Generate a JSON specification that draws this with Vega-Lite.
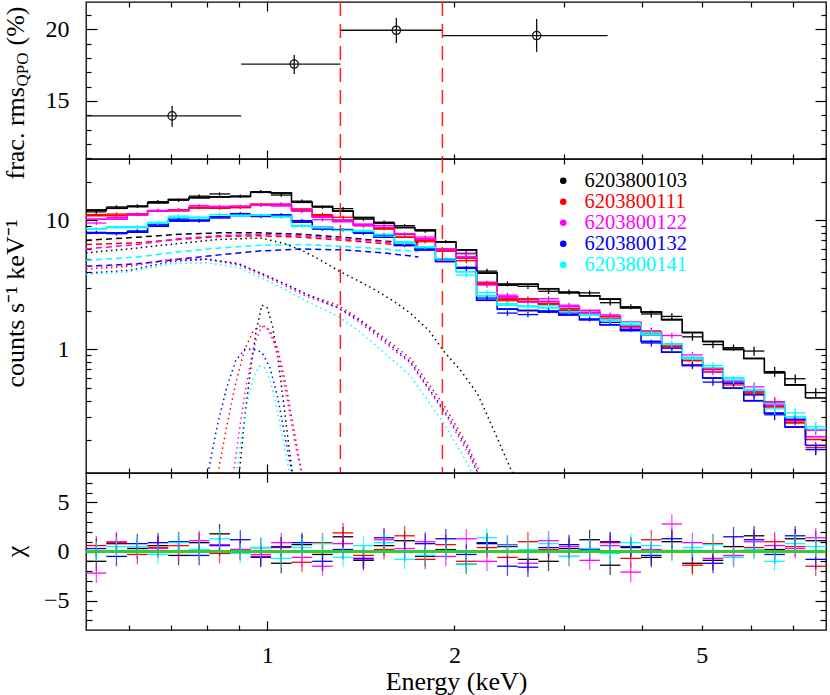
{
"$schema":"https://vega.github.io/schema/vega-lite/v6.json",
"padding":{"left":1,"top":0,"right":2,"bottom":0},
"bounds":"flush",
"spacing":0,
"config":{
 "view":{"stroke":"#000","strokeWidth":1.3},
 "axis":{"domain":false,"grid":false,"labelFont":"Liberation Serif","titleFont":"Liberation Serif","labelFontSize":24,"titleFontSize":26,"labelColor":"#000","titleColor":"#000","titleFontWeight":"normal","tickColor":"#000","tickWidth":1.2,"minExtent":0,"labelOverlap":false,"labelFlush":false},
 "legend":{"orient":"none","legendX":467,"legendY":168.6,"labelFont":"Liberation Serif","labelFontSize":20.5,"symbolType":"circle","symbolSize":25,"rowPadding":0,"labelOffset":11,"padding":0}
},
"datasets":{
"qpo":[
{"lo":0.511,"hi":0.908,"e":0.703,"v":13.96,"vlo":13.2,"vhi":14.65},
{"lo":0.908,"hi":1.311,"e":1.105,"v":17.57,"vlo":16.88,"vhi":18.21},
{"lo":1.311,"hi":1.913,"e":1.613,"v":19.93,"vlo":19.04,"vhi":20.79},
{"lo":1.913,"hi":3.527,"e":2.712,"v":19.56,"vlo":18.42,"vhi":20.72}
],
"spec":[
{"o":"6203800103","lo":0.511,"hi":0.551,"e":0.531,"m":12.0,"d":11.64,"s":0.36,"r":-1.0},
{"o":"6203800103","lo":0.551,"hi":0.595,"e":0.572,"m":12.4,"d":12.70,"s":0.372,"r":0.8},
{"o":"6203800103","lo":0.595,"hi":0.642,"e":0.618,"m":12.8,"d":12.92,"s":0.384,"r":0.3},
{"o":"6203800103","lo":0.642,"hi":0.693,"e":0.667,"m":13.7,"d":13.95,"s":0.411,"r":0.6},
{"o":"6203800103","lo":0.693,"hi":0.748,"e":0.720,"m":14.5,"d":14.33,"s":0.435,"r":-0.4},
{"o":"6203800103","lo":0.748,"hi":0.807,"e":0.777,"m":15.0,"d":15.41,"s":0.45,"r":0.9},
{"o":"6203800103","lo":0.807,"hi":0.871,"e":0.838,"m":15.2,"d":16.02,"s":0.456,"r":1.8},
{"o":"6203800103","lo":0.871,"hi":0.940,"e":0.905,"m":15.3,"d":15.39,"s":0.459,"r":0.2},
{"o":"6203800103","lo":0.940,"hi":1.014,"e":0.976,"m":16.5,"d":16.70,"s":0.495,"r":0.4},
{"o":"6203800103","lo":1.014,"hi":1.094,"e":1.053,"m":16.3,"d":15.71,"s":0.489,"r":-1.2},
{"o":"6203800103","lo":1.094,"hi":1.181,"e":1.137,"m":13.8,"d":14.09,"s":0.414,"r":0.7},
{"o":"6203800103","lo":1.181,"hi":1.274,"e":1.227,"m":12.8,"d":12.68,"s":0.384,"r":-0.3},
{"o":"6203800103","lo":1.274,"hi":1.375,"e":1.324,"m":11.8,"d":12.33,"s":0.354,"r":1.5},
{"o":"6203800103","lo":1.375,"hi":1.484,"e":1.428,"m":10.5,"d":10.22,"s":0.315,"r":-0.9},
{"o":"6203800103","lo":1.484,"hi":1.601,"e":1.541,"m":9.5,"d":9.67,"s":0.285,"r":0.6},
{"o":"6203800103","lo":1.601,"hi":1.728,"e":1.663,"m":8.8,"d":9.09,"s":0.264,"r":1.1},
{"o":"6203800103","lo":1.728,"hi":1.864,"e":1.795,"m":8.4,"d":8.27,"s":0.252,"r":-0.5},
{"o":"6203800103","lo":1.864,"hi":2.012,"e":1.937,"m":6.8,"d":6.84,"s":0.204,"r":0.2},
{"o":"6203800103","lo":2.012,"hi":2.171,"e":2.090,"m":5.9,"d":5.55,"s":0.266,"r":-1.3},
{"o":"6203800103","lo":2.171,"hi":2.343,"e":2.256,"m":3.9,"d":4.04,"s":0.176,"r":0.8},
{"o":"6203800103","lo":2.343,"hi":2.528,"e":2.434,"m":3.15,"d":3.22,"s":0.142,"r":0.5},
{"o":"6203800103","lo":2.528,"hi":2.728,"e":2.626,"m":3.2,"d":3.08,"s":0.144,"r":-0.8},
{"o":"6203800103","lo":2.728,"hi":2.944,"e":2.834,"m":2.95,"d":2.82,"s":0.133,"r":-1.0},
{"o":"6203800103","lo":2.944,"hi":3.177,"e":3.058,"m":2.75,"d":2.79,"s":0.124,"r":0.3},
{"o":"6203800103","lo":3.177,"hi":3.428,"e":3.300,"m":2.6,"d":2.74,"s":0.117,"r":1.2},
{"o":"6203800103","lo":3.428,"hi":3.699,"e":3.561,"m":2.45,"d":2.30,"s":0.110,"r":-1.4},
{"o":"6203800103","lo":3.699,"hi":3.992,"e":3.843,"m":2.1,"d":2.14,"s":0.0945,"r":0.4},
{"o":"6203800103","lo":3.992,"hi":4.308,"e":4.147,"m":1.95,"d":1.88,"s":0.117,"r":-0.6},
{"o":"6203800103","lo":4.308,"hi":4.649,"e":4.475,"m":1.7,"d":1.80,"s":0.102,"r":1.0},
{"o":"6203800103","lo":4.649,"hi":5.016,"e":4.829,"m":1.35,"d":1.25,"s":0.081,"r":-1.2},
{"o":"6203800103","lo":5.016,"hi":5.413,"e":5.211,"m":1.15,"d":1.09,"s":0.069,"r":-0.9},
{"o":"6203800103","lo":5.413,"hi":5.841,"e":5.623,"m":1.0,"d":1.03,"s":0.06,"r":0.5},
{"o":"6203800103","lo":5.841,"hi":6.303,"e":6.068,"m":0.85,"d":0.97,"s":0.0765,"r":1.6},
{"o":"6203800103","lo":6.303,"hi":6.802,"e":6.548,"m":0.66,"d":0.672,"s":0.0594,"r":0.2},
{"o":"6203800103","lo":6.802,"hi":7.340,"e":7.066,"m":0.53,"d":0.592,"s":0.0477,"r":1.3},
{"o":"6203800103","lo":7.340,"hi":7.92,"e":7.625,"m":0.42,"d":0.462,"s":0.0378,"r":1.1},
{"o":"6203800111","lo":0.511,"hi":0.551,"e":0.531,"m":10.9,"d":11.10,"s":0.327,"r":0.6},
{"o":"6203800111","lo":0.551,"hi":0.595,"e":0.572,"m":10.9,"d":11.19,"s":0.327,"r":0.9},
{"o":"6203800111","lo":0.595,"hi":0.642,"e":0.618,"m":11.2,"d":11.10,"s":0.336,"r":-0.3},
{"o":"6203800111","lo":0.642,"hi":0.693,"e":0.667,"m":11.8,"d":11.94,"s":0.354,"r":0.4},
{"o":"6203800111","lo":0.693,"hi":0.748,"e":0.720,"m":11.9,"d":12.11,"s":0.357,"r":0.6},
{"o":"6203800111","lo":0.748,"hi":0.807,"e":0.777,"m":12.5,"d":12.58,"s":0.375,"r":0.2},
{"o":"6203800111","lo":0.807,"hi":0.871,"e":0.838,"m":12.5,"d":12.43,"s":0.375,"r":-0.2},
{"o":"6203800111","lo":0.871,"hi":0.940,"e":0.905,"m":12.6,"d":12.64,"s":0.378,"r":0.1},
{"o":"6203800111","lo":0.940,"hi":1.014,"e":0.976,"m":13.3,"d":13.10,"s":0.399,"r":-0.5},
{"o":"6203800111","lo":1.014,"hi":1.094,"e":1.053,"m":13.2,"d":13.36,"s":0.396,"r":0.4},
{"o":"6203800111","lo":1.094,"hi":1.181,"e":1.137,"m":12.2,"d":11.80,"s":0.366,"r":-1.1},
{"o":"6203800111","lo":1.181,"hi":1.274,"e":1.227,"m":10.8,"d":11.09,"s":0.324,"r":0.9},
{"o":"6203800111","lo":1.274,"hi":1.375,"e":1.324,"m":10.0,"d":10.57,"s":0.30,"r":1.9},
{"o":"6203800111","lo":1.375,"hi":1.484,"e":1.428,"m":9.2,"d":9.09,"s":0.276,"r":-0.4},
{"o":"6203800111","lo":1.484,"hi":1.601,"e":1.541,"m":8.6,"d":8.65,"s":0.258,"r":0.2},
{"o":"6203800111","lo":1.601,"hi":1.728,"e":1.663,"m":7.4,"d":7.76,"s":0.222,"r":1.6},
{"o":"6203800111","lo":1.728,"hi":1.864,"e":1.795,"m":7.0,"d":6.83,"s":0.21,"r":-0.8},
{"o":"6203800111","lo":1.864,"hi":2.012,"e":1.937,"m":5.8,"d":5.92,"s":0.174,"r":0.7},
{"o":"6203800111","lo":2.012,"hi":2.171,"e":2.090,"m":5.1,"d":4.87,"s":0.23,"r":-1.0},
{"o":"6203800111","lo":2.171,"hi":2.343,"e":2.256,"m":3.2,"d":3.26,"s":0.144,"r":0.4},
{"o":"6203800111","lo":2.343,"hi":2.528,"e":2.434,"m":2.45,"d":2.38,"s":0.110,"r":-0.6},
{"o":"6203800111","lo":2.528,"hi":2.728,"e":2.626,"m":2.35,"d":2.46,"s":0.106,"r":1.0},
{"o":"6203800111","lo":2.728,"hi":2.944,"e":2.834,"m":2.25,"d":2.27,"s":0.101,"r":0.2},
{"o":"6203800111","lo":2.944,"hi":3.177,"e":3.058,"m":2.05,"d":2.00,"s":0.092,"r":-0.5},
{"o":"6203800111","lo":3.177,"hi":3.428,"e":3.300,"m":1.9,"d":1.93,"s":0.0855,"r":0.3},
{"o":"6203800111","lo":3.428,"hi":3.699,"e":3.561,"m":1.72,"d":1.79,"s":0.0774,"r":0.9},
{"o":"6203800111","lo":3.699,"hi":3.992,"e":3.843,"m":1.55,"d":1.50,"s":0.0698,"r":-0.7},
{"o":"6203800111","lo":3.992,"hi":4.308,"e":4.147,"m":1.3,"d":1.39,"s":0.078,"r":1.2},
{"o":"6203800111","lo":4.308,"hi":4.649,"e":4.475,"m":1.05,"d":1.06,"s":0.063,"r":0.1},
{"o":"6203800111","lo":4.649,"hi":5.016,"e":4.829,"m":0.82,"d":0.751,"s":0.0492,"r":-1.4},
{"o":"6203800111","lo":5.016,"hi":5.413,"e":5.211,"m":0.67,"d":0.702,"s":0.0402,"r":0.8},
{"o":"6203800111","lo":5.413,"hi":5.841,"e":5.623,"m":0.55,"d":0.530,"s":0.033,"r":-0.6},
{"o":"6203800111","lo":5.841,"hi":6.303,"e":6.068,"m":0.45,"d":0.466,"s":0.0405,"r":0.4},
{"o":"6203800111","lo":6.303,"hi":6.802,"e":6.548,"m":0.36,"d":0.392,"s":0.0324,"r":1.0},
{"o":"6203800111","lo":6.802,"hi":7.340,"e":7.066,"m":0.27,"d":0.282,"s":0.0243,"r":0.5},
{"o":"6203800111","lo":7.340,"hi":7.92,"e":7.625,"m":0.2,"d":0.173,"s":0.018,"r":-1.5},
{"o":"6203800122","lo":0.511,"hi":0.551,"e":0.531,"m":10.2,"d":9.53,"s":0.306,"r":-2.2},
{"o":"6203800122","lo":0.551,"hi":0.595,"e":0.572,"m":10.2,"d":10.51,"s":0.306,"r":1.0},
{"o":"6203800122","lo":0.595,"hi":0.642,"e":0.618,"m":11.0,"d":11.17,"s":0.33,"r":0.5},
{"o":"6203800122","lo":0.642,"hi":0.693,"e":0.667,"m":11.8,"d":11.91,"s":0.354,"r":0.3},
{"o":"6203800122","lo":0.693,"hi":0.748,"e":0.720,"m":12.0,"d":12.0,"s":0.36,"r":0.0},
{"o":"6203800122","lo":0.748,"hi":0.807,"e":0.777,"m":12.6,"d":13.02,"s":0.378,"r":1.1},
{"o":"6203800122","lo":0.807,"hi":0.871,"e":0.838,"m":12.6,"d":12.86,"s":0.378,"r":0.7},
{"o":"6203800122","lo":0.871,"hi":0.940,"e":0.905,"m":12.8,"d":12.88,"s":0.384,"r":0.2},
{"o":"6203800122","lo":0.940,"hi":1.014,"e":0.976,"m":13.2,"d":13.08,"s":0.396,"r":-0.3},
{"o":"6203800122","lo":1.014,"hi":1.094,"e":1.053,"m":13.0,"d":13.35,"s":0.39,"r":0.9},
{"o":"6203800122","lo":1.094,"hi":1.181,"e":1.137,"m":12.0,"d":11.78,"s":0.36,"r":-0.6},
{"o":"6203800122","lo":1.181,"hi":1.274,"e":1.227,"m":10.6,"d":10.12,"s":0.318,"r":-1.5},
{"o":"6203800122","lo":1.274,"hi":1.375,"e":1.324,"m":9.8,"d":10.04,"s":0.294,"r":0.8},
{"o":"6203800122","lo":1.375,"hi":1.484,"e":1.428,"m":9.3,"d":9.08,"s":0.279,"r":-0.8},
{"o":"6203800122","lo":1.484,"hi":1.601,"e":1.541,"m":8.8,"d":9.12,"s":0.264,"r":1.2},
{"o":"6203800122","lo":1.601,"hi":1.728,"e":1.663,"m":7.8,"d":7.87,"s":0.234,"r":0.3},
{"o":"6203800122","lo":1.728,"hi":1.864,"e":1.795,"m":7.2,"d":7.42,"s":0.216,"r":1.0},
{"o":"6203800122","lo":1.864,"hi":2.012,"e":1.937,"m":6.0,"d":5.91,"s":0.18,"r":-0.5},
{"o":"6203800122","lo":2.012,"hi":2.171,"e":2.090,"m":5.2,"d":5.50,"s":0.234,"r":1.3},
{"o":"6203800122","lo":2.171,"hi":2.343,"e":2.256,"m":3.3,"d":3.15,"s":0.1485,"r":-1.0},
{"o":"6203800122","lo":2.343,"hi":2.528,"e":2.434,"m":2.55,"d":2.63,"s":0.115,"r":0.7},
{"o":"6203800122","lo":2.528,"hi":2.728,"e":2.626,"m":2.45,"d":2.32,"s":0.110,"r":-1.2},
{"o":"6203800122","lo":2.728,"hi":2.944,"e":2.834,"m":2.35,"d":2.47,"s":0.106,"r":1.1},
{"o":"6203800122","lo":2.944,"hi":3.177,"e":3.058,"m":2.15,"d":2.20,"s":0.097,"r":0.5},
{"o":"6203800122","lo":3.177,"hi":3.428,"e":3.300,"m":2.0,"d":1.92,"s":0.09,"r":-0.9},
{"o":"6203800122","lo":3.428,"hi":3.699,"e":3.561,"m":1.8,"d":1.85,"s":0.081,"r":0.6},
{"o":"6203800122","lo":3.699,"hi":3.992,"e":3.843,"m":1.62,"d":1.47,"s":0.0729,"r":-2.1},
{"o":"6203800122","lo":3.992,"hi":4.308,"e":4.147,"m":1.35,"d":1.37,"s":0.081,"r":0.2},
{"o":"6203800122","lo":4.308,"hi":4.649,"e":4.475,"m":1.1,"d":1.28,"s":0.066,"r":2.8},
{"o":"6203800122","lo":4.649,"hi":5.016,"e":4.829,"m":0.86,"d":0.906,"s":0.0516,"r":0.9},
{"o":"6203800122","lo":5.016,"hi":5.413,"e":5.211,"m":0.7,"d":0.671,"s":0.042,"r":-0.7},
{"o":"6203800122","lo":5.413,"hi":5.841,"e":5.623,"m":0.57,"d":0.556,"s":0.0342,"r":-0.4},
{"o":"6203800122","lo":5.841,"hi":6.303,"e":6.068,"m":0.47,"d":0.512,"s":0.0423,"r":1.0},
{"o":"6203800122","lo":6.303,"hi":6.802,"e":6.548,"m":0.37,"d":0.390,"s":0.0333,"r":0.6},
{"o":"6203800122","lo":6.802,"hi":7.340,"e":7.066,"m":0.28,"d":0.288,"s":0.0252,"r":0.3},
{"o":"6203800122","lo":7.340,"hi":7.92,"e":7.625,"m":0.21,"d":0.236,"s":0.0189,"r":1.4},
{"o":"6203800132","lo":0.511,"hi":0.551,"e":0.531,"m":8.0,"d":8.07,"s":0.24,"r":0.3},
{"o":"6203800132","lo":0.551,"hi":0.595,"e":0.572,"m":8.0,"d":7.88,"s":0.24,"r":-0.5},
{"o":"6203800132","lo":0.595,"hi":0.642,"e":0.618,"m":8.1,"d":8.29,"s":0.243,"r":0.8},
{"o":"6203800132","lo":0.642,"hi":0.693,"e":0.667,"m":9.0,"d":9.24,"s":0.27,"r":0.9},
{"o":"6203800132","lo":0.693,"hi":0.748,"e":0.720,"m":9.9,"d":10.20,"s":0.297,"r":1.0},
{"o":"6203800132","lo":0.748,"hi":0.807,"e":0.777,"m":10.0,"d":9.88,"s":0.30,"r":-0.4},
{"o":"6203800132","lo":0.807,"hi":0.871,"e":0.838,"m":10.5,"d":10.69,"s":0.315,"r":0.6},
{"o":"6203800132","lo":0.871,"hi":0.940,"e":0.905,"m":10.9,"d":11.29,"s":0.327,"r":1.2},
{"o":"6203800132","lo":0.940,"hi":1.014,"e":0.976,"m":10.9,"d":10.70,"s":0.327,"r":-0.6},
{"o":"6203800132","lo":1.014,"hi":1.094,"e":1.053,"m":10.9,"d":11.06,"s":0.327,"r":0.5},
{"o":"6203800132","lo":1.094,"hi":1.181,"e":1.137,"m":9.7,"d":9.96,"s":0.291,"r":0.9},
{"o":"6203800132","lo":1.181,"hi":1.274,"e":1.227,"m":8.8,"d":8.54,"s":0.264,"r":-1.0},
{"o":"6203800132","lo":1.274,"hi":1.375,"e":1.324,"m":8.4,"d":8.45,"s":0.252,"r":0.2},
{"o":"6203800132","lo":1.375,"hi":1.484,"e":1.428,"m":8.1,"d":7.93,"s":0.243,"r":-0.7},
{"o":"6203800132","lo":1.484,"hi":1.601,"e":1.541,"m":7.4,"d":7.71,"s":0.222,"r":1.4},
{"o":"6203800132","lo":1.601,"hi":1.728,"e":1.663,"m":6.4,"d":6.40,"s":0.192,"r":0.0},
{"o":"6203800132","lo":1.728,"hi":1.864,"e":1.795,"m":5.9,"d":6.04,"s":0.177,"r":0.8},
{"o":"6203800132","lo":1.864,"hi":2.012,"e":1.937,"m":4.8,"d":4.99,"s":0.144,"r":1.3},
{"o":"6203800132","lo":2.012,"hi":2.171,"e":2.090,"m":4.3,"d":4.24,"s":0.1935,"r":-0.3},
{"o":"6203800132","lo":2.171,"hi":2.343,"e":2.256,"m":2.4,"d":2.50,"s":0.108,"r":0.9},
{"o":"6203800132","lo":2.343,"hi":2.528,"e":2.434,"m":2.05,"d":1.91,"s":0.092,"r":-1.5},
{"o":"6203800132","lo":2.528,"hi":2.728,"e":2.626,"m":2.0,"d":1.86,"s":0.09,"r":-1.6},
{"o":"6203800132","lo":2.728,"hi":2.944,"e":2.834,"m":1.95,"d":1.99,"s":0.0878,"r":0.4},
{"o":"6203800132","lo":2.944,"hi":3.177,"e":3.058,"m":1.85,"d":1.91,"s":0.0833,"r":0.7},
{"o":"6203800132","lo":3.177,"hi":3.428,"e":3.300,"m":1.7,"d":1.72,"s":0.0765,"r":0.2},
{"o":"6203800132","lo":3.428,"hi":3.699,"e":3.561,"m":1.55,"d":1.62,"s":0.0698,"r":1.0},
{"o":"6203800132","lo":3.699,"hi":3.992,"e":3.843,"m":1.4,"d":1.43,"s":0.063,"r":0.5},
{"o":"6203800132","lo":3.992,"hi":4.308,"e":4.147,"m":1.15,"d":1.12,"s":0.069,"r":-0.4},
{"o":"6203800132","lo":4.308,"hi":4.649,"e":4.475,"m":0.95,"d":1.02,"s":0.057,"r":1.3},
{"o":"6203800132","lo":4.649,"hi":5.016,"e":4.829,"m":0.75,"d":0.755,"s":0.045,"r":0.1},
{"o":"6203800132","lo":5.016,"hi":5.413,"e":5.211,"m":0.6,"d":0.557,"s":0.036,"r":-1.2},
{"o":"6203800132","lo":5.413,"hi":5.841,"e":5.623,"m":0.5,"d":0.545,"s":0.03,"r":1.5},
{"o":"6203800132","lo":5.841,"hi":6.303,"e":6.068,"m":0.4,"d":0.443,"s":0.036,"r":1.2},
{"o":"6203800132","lo":6.303,"hi":6.802,"e":6.548,"m":0.32,"d":0.311,"s":0.0288,"r":-0.3},
{"o":"6203800132","lo":6.802,"hi":7.340,"e":7.066,"m":0.25,"d":0.286,"s":0.0225,"r":1.6},
{"o":"6203800132","lo":7.340,"hi":7.92,"e":7.625,"m":0.18,"d":0.167,"s":0.0162,"r":-0.8},
{"o":"6203800141","lo":0.511,"hi":0.551,"e":0.531,"m":8.6,"d":8.6,"s":0.258,"r":0.0},
{"o":"6203800141","lo":0.551,"hi":0.595,"e":0.572,"m":8.8,"d":8.93,"s":0.264,"r":0.5},
{"o":"6203800141","lo":0.595,"hi":0.642,"e":0.618,"m":8.8,"d":8.93,"s":0.264,"r":0.5},
{"o":"6203800141","lo":0.642,"hi":0.693,"e":0.667,"m":9.6,"d":9.51,"s":0.288,"r":-0.3},
{"o":"6203800141","lo":0.693,"hi":0.748,"e":0.720,"m":10.5,"d":10.78,"s":0.315,"r":0.9},
{"o":"6203800141","lo":0.748,"hi":0.807,"e":0.777,"m":10.5,"d":10.56,"s":0.315,"r":0.2},
{"o":"6203800141","lo":0.807,"hi":0.871,"e":0.838,"m":10.7,"d":11.12,"s":0.321,"r":1.3},
{"o":"6203800141","lo":0.871,"hi":0.940,"e":0.905,"m":10.9,"d":10.83,"s":0.327,"r":-0.2},
{"o":"6203800141","lo":0.940,"hi":1.014,"e":0.976,"m":10.9,"d":11.03,"s":0.327,"r":0.4},
{"o":"6203800141","lo":1.014,"hi":1.094,"e":1.053,"m":10.8,"d":10.57,"s":0.324,"r":-0.7},
{"o":"6203800141","lo":1.094,"hi":1.181,"e":1.137,"m":9.0,"d":9.11,"s":0.27,"r":0.4},
{"o":"6203800141","lo":1.181,"hi":1.274,"e":1.227,"m":8.6,"d":8.81,"s":0.258,"r":0.8},
{"o":"6203800141","lo":1.274,"hi":1.375,"e":1.324,"m":8.5,"d":8.35,"s":0.255,"r":-0.6},
{"o":"6203800141","lo":1.375,"hi":1.484,"e":1.428,"m":8.2,"d":8.35,"s":0.246,"r":0.6},
{"o":"6203800141","lo":1.484,"hi":1.601,"e":1.541,"m":7.6,"d":7.81,"s":0.228,"r":0.9},
{"o":"6203800141","lo":1.601,"hi":1.728,"e":1.663,"m":6.8,"d":6.64,"s":0.204,"r":-0.8},
{"o":"6203800141","lo":1.728,"hi":1.864,"e":1.795,"m":6.2,"d":6.13,"s":0.186,"r":-0.4},
{"o":"6203800141","lo":1.864,"hi":2.012,"e":1.937,"m":5.0,"d":5.02,"s":0.15,"r":0.1},
{"o":"6203800141","lo":2.012,"hi":2.171,"e":2.090,"m":4.0,"d":3.77,"s":0.18,"r":-1.3},
{"o":"6203800141","lo":2.171,"hi":2.343,"e":2.256,"m":2.6,"d":2.76,"s":0.117,"r":1.4},
{"o":"6203800141","lo":2.343,"hi":2.528,"e":2.434,"m":2.2,"d":2.26,"s":0.099,"r":0.6},
{"o":"6203800141","lo":2.528,"hi":2.728,"e":2.626,"m":2.15,"d":2.17,"s":0.0968,"r":0.2},
{"o":"6203800141","lo":2.728,"hi":2.944,"e":2.834,"m":2.1,"d":2.18,"s":0.0945,"r":0.8},
{"o":"6203800141","lo":2.944,"hi":3.177,"e":3.058,"m":2.0,"d":1.96,"s":0.09,"r":-0.5},
{"o":"6203800141","lo":3.177,"hi":3.428,"e":3.300,"m":1.85,"d":1.87,"s":0.0833,"r":0.3},
{"o":"6203800141","lo":3.428,"hi":3.699,"e":3.561,"m":1.7,"d":1.68,"s":0.0765,"r":-0.2},
{"o":"6203800141","lo":3.699,"hi":3.992,"e":3.843,"m":1.55,"d":1.61,"s":0.0698,"r":0.9},
{"o":"6203800141","lo":3.992,"hi":4.308,"e":4.147,"m":1.3,"d":1.35,"s":0.078,"r":0.6},
{"o":"6203800141","lo":4.308,"hi":4.649,"e":4.475,"m":1.1,"d":1.1,"s":0.066,"r":0.0},
{"o":"6203800141","lo":4.649,"hi":5.016,"e":4.829,"m":0.85,"d":0.870,"s":0.051,"r":0.4},
{"o":"6203800141","lo":5.016,"hi":5.413,"e":5.211,"m":0.72,"d":0.750,"s":0.0432,"r":0.7},
{"o":"6203800141","lo":5.413,"hi":5.841,"e":5.623,"m":0.6,"d":0.578,"s":0.036,"r":-0.6},
{"o":"6203800141","lo":5.841,"hi":6.303,"e":6.068,"m":0.48,"d":0.489,"s":0.0432,"r":0.2},
{"o":"6203800141","lo":6.303,"hi":6.802,"e":6.548,"m":0.38,"d":0.346,"s":0.0342,"r":-1.0},
{"o":"6203800141","lo":6.802,"hi":7.340,"e":7.066,"m":0.3,"d":0.322,"s":0.027,"r":0.8},
{"o":"6203800141","lo":7.340,"hi":7.92,"e":7.625,"m":0.24,"d":0.251,"s":0.0216,"r":0.5}
],
"comp":[
{"o":"6203800103","k":"pl","e":0.511,"v":7.0},{"o":"6203800103","k":"pl","e":0.618,"v":7.4},{"o":"6203800103","k":"pl","e":0.72,"v":7.8},{"o":"6203800103","k":"pl","e":0.838,"v":8.0},{"o":"6203800103","k":"pl","e":0.976,"v":8.0},{"o":"6203800103","k":"pl","e":1.137,"v":7.8},{"o":"6203800103","k":"pl","e":1.324,"v":7.4},{"o":"6203800103","k":"pl","e":1.541,"v":6.9},{"o":"6203800103","k":"pl","e":1.75,"v":6.7},
{"o":"6203800111","k":"pl","e":0.511,"v":6.5},{"o":"6203800111","k":"pl","e":0.618,"v":6.7},{"o":"6203800111","k":"pl","e":0.72,"v":7.1},{"o":"6203800111","k":"pl","e":0.838,"v":7.5},{"o":"6203800111","k":"pl","e":0.976,"v":7.6},{"o":"6203800111","k":"pl","e":1.137,"v":7.4},{"o":"6203800111","k":"pl","e":1.324,"v":7.0},{"o":"6203800111","k":"pl","e":1.541,"v":6.6},{"o":"6203800111","k":"pl","e":1.75,"v":6.3},
{"o":"6203800122","k":"pl","e":0.511,"v":6.0},{"o":"6203800122","k":"pl","e":0.618,"v":6.5},{"o":"6203800122","k":"pl","e":0.72,"v":7.2},{"o":"6203800122","k":"pl","e":0.838,"v":7.6},{"o":"6203800122","k":"pl","e":0.976,"v":7.8},{"o":"6203800122","k":"pl","e":1.137,"v":7.6},{"o":"6203800122","k":"pl","e":1.324,"v":7.2},{"o":"6203800122","k":"pl","e":1.541,"v":6.8},{"o":"6203800122","k":"pl","e":1.75,"v":6.5},
{"o":"6203800132","k":"pl","e":0.511,"v":4.4},{"o":"6203800132","k":"pl","e":0.618,"v":4.6},{"o":"6203800132","k":"pl","e":0.72,"v":5.0},{"o":"6203800132","k":"pl","e":0.838,"v":5.4},{"o":"6203800132","k":"pl","e":0.976,"v":5.8},{"o":"6203800132","k":"pl","e":1.137,"v":6.0},{"o":"6203800132","k":"pl","e":1.324,"v":5.9},{"o":"6203800132","k":"pl","e":1.541,"v":5.6},{"o":"6203800132","k":"pl","e":1.75,"v":5.2},
{"o":"6203800141","k":"pl","e":0.511,"v":4.9},{"o":"6203800141","k":"pl","e":0.618,"v":5.2},{"o":"6203800141","k":"pl","e":0.72,"v":5.7},{"o":"6203800141","k":"pl","e":0.838,"v":6.1},{"o":"6203800141","k":"pl","e":0.976,"v":6.4},{"o":"6203800141","k":"pl","e":1.137,"v":6.5},{"o":"6203800141","k":"pl","e":1.324,"v":6.3},{"o":"6203800141","k":"pl","e":1.541,"v":6.0},{"o":"6203800141","k":"pl","e":1.75,"v":5.7},
{"o":"6203800103","k":"disk","e":0.511,"v":5.6},{"o":"6203800103","k":"disk","e":0.597,"v":6.0},{"o":"6203800103","k":"disk","e":0.718,"v":6.6},{"o":"6203800103","k":"disk","e":0.83,"v":7.1},{"o":"6203800103","k":"disk","e":0.976,"v":7.3},{"o":"6203800103","k":"disk","e":1.067,"v":6.6},{"o":"6203800103","k":"disk","e":1.15,"v":5.7},{"o":"6203800103","k":"disk","e":1.22,"v":4.9},{"o":"6203800103","k":"disk","e":1.298,"v":4.1},{"o":"6203800103","k":"disk","e":1.4,"v":3.4},{"o":"6203800103","k":"disk","e":1.489,"v":2.9},{"o":"6203800103","k":"disk","e":1.6,"v":2.35},{"o":"6203800103","k":"disk","e":1.7,"v":1.9},{"o":"6203800103","k":"disk","e":1.82,"v":1.4},{"o":"6203800103","k":"disk","e":1.928,"v":0.95},{"o":"6203800103","k":"disk","e":2.05,"v":0.68},{"o":"6203800103","k":"disk","e":2.18,"v":0.45},{"o":"6203800103","k":"disk","e":2.32,"v":0.23},{"o":"6203800103","k":"disk","e":2.46,"v":0.12},{"o":"6203800103","k":"disk","e":2.52,"v":0.1},
{"o":"6203800111","k":"disk","e":0.511,"v":4.2},{"o":"6203800111","k":"disk","e":0.6,"v":4.4},{"o":"6203800111","k":"disk","e":0.7,"v":5.0},{"o":"6203800111","k":"disk","e":0.8,"v":5.0},{"o":"6203800111","k":"disk","e":0.9,"v":4.6},{"o":"6203800111","k":"disk","e":1.0,"v":3.7},{"o":"6203800111","k":"disk","e":1.07,"v":3.2},{"o":"6203800111","k":"disk","e":1.15,"v":2.7},{"o":"6203800111","k":"disk","e":1.3,"v":2.2},{"o":"6203800111","k":"disk","e":1.4,"v":1.75},{"o":"6203800111","k":"disk","e":1.52,"v":1.3},{"o":"6203800111","k":"disk","e":1.7,"v":0.85},{"o":"6203800111","k":"disk","e":1.93,"v":0.36},{"o":"6203800111","k":"disk","e":2.1,"v":0.18},{"o":"6203800111","k":"disk","e":2.2,"v":0.11},
{"o":"6203800122","k":"disk","e":0.511,"v":4.4},{"o":"6203800122","k":"disk","e":0.6,"v":4.5},{"o":"6203800122","k":"disk","e":0.7,"v":4.9},{"o":"6203800122","k":"disk","e":0.8,"v":5.0},{"o":"6203800122","k":"disk","e":0.9,"v":4.5},{"o":"6203800122","k":"disk","e":1.0,"v":3.6},{"o":"6203800122","k":"disk","e":1.07,"v":3.1},{"o":"6203800122","k":"disk","e":1.15,"v":2.6},{"o":"6203800122","k":"disk","e":1.3,"v":2.1},{"o":"6203800122","k":"disk","e":1.4,"v":1.65},{"o":"6203800122","k":"disk","e":1.52,"v":1.2},{"o":"6203800122","k":"disk","e":1.7,"v":0.78},{"o":"6203800122","k":"disk","e":1.93,"v":0.32},{"o":"6203800122","k":"disk","e":2.1,"v":0.16},{"o":"6203800122","k":"disk","e":2.2,"v":0.1},
{"o":"6203800132","k":"disk","e":0.511,"v":3.9},{"o":"6203800132","k":"disk","e":0.6,"v":4.1},{"o":"6203800132","k":"disk","e":0.7,"v":4.8},{"o":"6203800132","k":"disk","e":0.8,"v":5.0},{"o":"6203800132","k":"disk","e":0.9,"v":4.6},{"o":"6203800132","k":"disk","e":1.0,"v":3.7},{"o":"6203800132","k":"disk","e":1.07,"v":3.2},{"o":"6203800132","k":"disk","e":1.15,"v":2.7},{"o":"6203800132","k":"disk","e":1.3,"v":2.1},{"o":"6203800132","k":"disk","e":1.4,"v":1.7},{"o":"6203800132","k":"disk","e":1.52,"v":1.25},{"o":"6203800132","k":"disk","e":1.7,"v":0.8},{"o":"6203800132","k":"disk","e":1.93,"v":0.33},{"o":"6203800132","k":"disk","e":2.1,"v":0.17},{"o":"6203800132","k":"disk","e":2.2,"v":0.1},
{"o":"6203800141","k":"disk","e":0.511,"v":3.8},{"o":"6203800141","k":"disk","e":0.6,"v":4.0},{"o":"6203800141","k":"disk","e":0.7,"v":4.6},{"o":"6203800141","k":"disk","e":0.8,"v":4.7},{"o":"6203800141","k":"disk","e":0.9,"v":4.3},{"o":"6203800141","k":"disk","e":1.0,"v":3.4},{"o":"6203800141","k":"disk","e":1.07,"v":2.9},{"o":"6203800141","k":"disk","e":1.15,"v":2.4},{"o":"6203800141","k":"disk","e":1.3,"v":1.8},{"o":"6203800141","k":"disk","e":1.4,"v":1.4},{"o":"6203800141","k":"disk","e":1.52,"v":1.0},{"o":"6203800141","k":"disk","e":1.7,"v":0.62},{"o":"6203800141","k":"disk","e":1.93,"v":0.26},{"o":"6203800141","k":"disk","e":2.1,"v":0.13},{"o":"6203800141","k":"disk","e":2.2,"v":0.08},
{"o":"6203800103","k":"line","e":0.9,"v":0.1},{"o":"6203800103","k":"line","e":0.92,"v":0.3},{"o":"6203800103","k":"line","e":0.94,"v":0.7},{"o":"6203800103","k":"line","e":0.96,"v":1.4},{"o":"6203800103","k":"line","e":0.98,"v":2.2},{"o":"6203800103","k":"line","e":1.0,"v":2.1},{"o":"6203800103","k":"line","e":1.02,"v":1.5},{"o":"6203800103","k":"line","e":1.04,"v":0.85},{"o":"6203800103","k":"line","e":1.06,"v":0.42},{"o":"6203800103","k":"line","e":1.08,"v":0.2},{"o":"6203800103","k":"line","e":1.1,"v":0.1},
{"o":"6203800111","k":"line","e":0.83,"v":0.1},{"o":"6203800111","k":"line","e":0.86,"v":0.25},{"o":"6203800111","k":"line","e":0.89,"v":0.55},{"o":"6203800111","k":"line","e":0.92,"v":1.0},{"o":"6203800111","k":"line","e":0.95,"v":1.4},{"o":"6203800111","k":"line","e":0.98,"v":1.55},{"o":"6203800111","k":"line","e":1.01,"v":1.4},{"o":"6203800111","k":"line","e":1.04,"v":1.0},{"o":"6203800111","k":"line","e":1.07,"v":0.55},{"o":"6203800111","k":"line","e":1.1,"v":0.26},{"o":"6203800111","k":"line","e":1.14,"v":0.1},
{"o":"6203800122","k":"line","e":0.88,"v":0.1},{"o":"6203800122","k":"line","e":0.9,"v":0.22},{"o":"6203800122","k":"line","e":0.92,"v":0.45},{"o":"6203800122","k":"line","e":0.94,"v":0.8},{"o":"6203800122","k":"line","e":0.96,"v":1.2},{"o":"6203800122","k":"line","e":0.98,"v":1.5},{"o":"6203800122","k":"line","e":1.0,"v":1.45},{"o":"6203800122","k":"line","e":1.02,"v":1.2},{"o":"6203800122","k":"line","e":1.05,"v":0.75},{"o":"6203800122","k":"line","e":1.08,"v":0.38},{"o":"6203800122","k":"line","e":1.11,"v":0.18},{"o":"6203800122","k":"line","e":1.14,"v":0.1},
{"o":"6203800132","k":"line","e":0.8,"v":0.1},{"o":"6203800132","k":"line","e":0.83,"v":0.25},{"o":"6203800132","k":"line","e":0.86,"v":0.5},{"o":"6203800132","k":"line","e":0.89,"v":0.82},{"o":"6203800132","k":"line","e":0.92,"v":1.0},{"o":"6203800132","k":"line","e":0.95,"v":1.0},{"o":"6203800132","k":"line","e":0.98,"v":0.95},{"o":"6203800132","k":"line","e":1.01,"v":0.72},{"o":"6203800132","k":"line","e":1.04,"v":0.42},{"o":"6203800132","k":"line","e":1.07,"v":0.2},{"o":"6203800132","k":"line","e":1.1,"v":0.1},
{"o":"6203800141","k":"line","e":0.89,"v":0.1},{"o":"6203800141","k":"line","e":0.91,"v":0.22},{"o":"6203800141","k":"line","e":0.93,"v":0.4},{"o":"6203800141","k":"line","e":0.95,"v":0.6},{"o":"6203800141","k":"line","e":0.97,"v":0.74},{"o":"6203800141","k":"line","e":0.99,"v":0.72},{"o":"6203800141","k":"line","e":1.01,"v":0.58},{"o":"6203800141","k":"line","e":1.03,"v":0.4},{"o":"6203800141","k":"line","e":1.06,"v":0.2},{"o":"6203800141","k":"line","e":1.09,"v":0.1}
],
"vl":[{"e":1.311},{"e":1.913}]
},
"vconcat":[
{
 "width":740,"height":157,
 "data":{"name":"qpo"},
 "resolve":{"axis":{"x":"independent","y":"independent"}},
 "layer":[
  {"mark":{"type":"point","opacity":0},"encoding":{
   "x":{"field":"e","type":"quantitative","scale":{"type":"log","domain":[0.511,7.92],"nice":false},"axis":{"orient":"bottom","values":[1],"labels":false,"tickSize":-9,"title":null}},
   "y":{"field":"v","type":"quantitative","scale":{"domain":[10.95,21.9],"nice":false,"zero":false},"axis":{"orient":"left","values":[15,20],"ticks":false,"labelPadding":17,"title":"frac. rms","titleX":-62.5,"titleY":177,"titleAlign":"left","titleAngle":-90,"titleBaseline":"alphabetic"}}}},
  {"mark":{"type":"point","opacity":0},"encoding":{
   "x":{"field":"e","type":"quantitative","scale":{"type":"log","domain":[0.511,7.92],"nice":false},"axis":{"orient":"bottom","values":[0.6,0.7,0.8,0.9,2,3,4,5,6,7],"labels":false,"tickSize":-5,"title":null}},
   "y":{"field":"v","type":"quantitative","scale":{"domain":[10.95,21.9],"nice":false,"zero":false},"axis":{"orient":"left","values":[15,20],"labels":false,"tickSize":-11,"title":"QPO","titleFontSize":17,"titleX":-58.5,"titleY":84,"titleAlign":"left","titleAngle":-90,"titleBaseline":"alphabetic"}}}},
  {"mark":{"type":"point","opacity":0},"encoding":{
   "x":{"field":"e","type":"quantitative","scale":{"type":"log","domain":[0.511,7.92],"nice":false},"axis":{"orient":"top","values":[1],"labels":false,"tickSize":-9,"title":null}},
   "y":{"field":"v","type":"quantitative","scale":{"domain":[10.95,21.9],"nice":false,"zero":false},"axis":{"orient":"left","values":[11,12,13,14,16,17,18,19,21],"labels":false,"tickSize":-5,"title":"(%)","titleX":-62.5,"titleY":43,"titleAlign":"left","titleAngle":-90,"titleBaseline":"alphabetic"}}}},
  {"mark":{"type":"point","opacity":0},"encoding":{
   "x":{"field":"e","type":"quantitative","scale":{"type":"log","domain":[0.511,7.92],"nice":false},"axis":{"orient":"top","values":[0.6,0.7,0.8,0.9,2,3,4,5,6,7],"labels":false,"tickSize":-5,"title":null}},
   "y":{"field":"v","type":"quantitative","scale":{"domain":[10.95,21.9],"nice":false,"zero":false},"axis":{"orient":"right","values":[15,20],"labels":false,"tickSize":-11,"title":null}}}},
  {"mark":{"type":"point","opacity":0},"encoding":{
   "x":{"field":"e","type":"quantitative","scale":{"type":"log","domain":[0.511,7.92],"nice":false},"axis":null},
   "y":{"field":"v","type":"quantitative","scale":{"domain":[10.95,21.9],"nice":false,"zero":false},"axis":{"orient":"right","values":[11,12,13,14,16,17,18,19,21],"labels":false,"tickSize":-5,"title":null}}}},
  {"mark":{"type":"rule","color":"#111","strokeWidth":1.3},"encoding":{
   "x":{"field":"lo","type":"quantitative","scale":{"type":"log","domain":[0.511,7.92],"nice":false},"axis":null},
   "x2":{"field":"hi"},
   "y":{"field":"v","type":"quantitative","scale":{"domain":[10.95,21.9],"nice":false,"zero":false},"axis":null}}},
  {"mark":{"type":"rule","color":"#111","strokeWidth":1.3},"encoding":{
   "x":{"field":"e","type":"quantitative","scale":{"type":"log","domain":[0.511,7.92],"nice":false},"axis":null},
   "y":{"field":"vlo","type":"quantitative","scale":{"domain":[10.95,21.9],"nice":false,"zero":false},"axis":null},
   "y2":{"field":"vhi"}}},
  {"mark":{"type":"point","filled":false,"color":"#111","size":70,"strokeWidth":1.2,"opacity":1},"encoding":{
   "x":{"field":"e","type":"quantitative","scale":{"type":"log","domain":[0.511,7.92],"nice":false},"axis":null},
   "y":{"field":"v","type":"quantitative","scale":{"domain":[10.95,21.9],"nice":false,"zero":false},"axis":null}}},
  {"data":{"name":"vl"},"mark":{"type":"rule","color":"#ff2020","strokeDash":[14,8],"strokeWidth":1.5},"encoding":{
   "x":{"field":"e","type":"quantitative","scale":{"type":"log","domain":[0.511,7.92],"nice":false},"axis":null}}}
 ]
},
{
 "width":740,"height":314,
 "data":{"name":"spec"},
 "resolve":{"axis":{"x":"independent","y":"independent"}},
 "layer":[
  {"mark":{"type":"point","opacity":0},"encoding":{
   "x":{"field":"e","type":"quantitative","scale":{"type":"log","domain":[0.511,7.92],"nice":false},"axis":{"orient":"bottom","values":[1],"labels":false,"tickSize":-9,"title":null}},
   "y":{"field":"m","type":"quantitative","scale":{"type":"log","domain":[0.11,29.9],"nice":false},"axis":{"orient":"left","values":[1,10],"ticks":false,"labelPadding":17,"labelExpr":"'' + datum.value","title":"counts s⁻¹ keV⁻¹","titleX":-62.5,"titleY":144,"titleAlign":"center","titleAngle":-90,"titleBaseline":"alphabetic"}}}},
  {"mark":{"type":"point","opacity":0},"encoding":{
   "x":{"field":"e","type":"quantitative","scale":{"type":"log","domain":[0.511,7.92],"nice":false},"axis":{"orient":"bottom","values":[0.6,0.7,0.8,0.9,2,3,4,5,6,7],"labels":false,"tickSize":-5,"title":null}},
   "y":{"field":"m","type":"quantitative","scale":{"type":"log","domain":[0.11,29.9],"nice":false},"axis":{"orient":"left","values":[1,10],"labels":false,"tickSize":-11,"title":null}}}},
  {"mark":{"type":"point","opacity":0},"encoding":{
   "x":{"field":"e","type":"quantitative","scale":{"type":"log","domain":[0.511,7.92],"nice":false},"axis":{"orient":"top","values":[1],"labels":false,"tickSize":-9,"title":null}},
   "y":{"field":"m","type":"quantitative","scale":{"type":"log","domain":[0.11,29.9],"nice":false},"axis":{"orient":"left","values":[0.2,0.3,0.4,0.5,0.6,0.7,0.8,0.9,2,3,4,5,6,7,8,9,20],"labels":false,"tickSize":-5,"title":null}}}},
  {"mark":{"type":"point","opacity":0},"encoding":{
   "x":{"field":"e","type":"quantitative","scale":{"type":"log","domain":[0.511,7.92],"nice":false},"axis":{"orient":"top","values":[0.6,0.7,0.8,0.9,2,3,4,5,6,7],"labels":false,"tickSize":-5,"title":null}},
   "y":{"field":"m","type":"quantitative","scale":{"type":"log","domain":[0.11,29.9],"nice":false},"axis":{"orient":"right","values":[1,10],"labels":false,"tickSize":-11,"title":null}}}},
  {"mark":{"type":"point","opacity":0},"encoding":{
   "x":{"field":"e","type":"quantitative","scale":{"type":"log","domain":[0.511,7.92],"nice":false},"axis":null},
   "y":{"field":"m","type":"quantitative","scale":{"type":"log","domain":[0.11,29.9],"nice":false},"axis":{"orient":"right","values":[0.2,0.3,0.4,0.5,0.6,0.7,0.8,0.9,2,3,4,5,6,7,8,9,20],"labels":false,"tickSize":-5,"title":null}}}},
  {"data":{"name":"comp"},"mark":{"type":"line","strokeWidth":1.5,"clip":true},"encoding":{
   "x":{"field":"e","type":"quantitative","scale":{"type":"log","domain":[0.511,7.92],"nice":false},"axis":null},
   "y":{"field":"v","type":"quantitative","scale":{"type":"log","domain":[0.11,29.9],"nice":false},"axis":null},
   "color":{"field":"o","type":"nominal","scale":{"domain":["6203800103","6203800111","6203800122","6203800132","6203800141"],"range":["#000000","#ff0000","#ff00ff","#0000ff","#00ffff"]},
     "legend":{"title":null,"encode":{"symbols":{"update":{"fill":{"scale":"color","field":"value"},"stroke":{"value":"transparent"},"shape":{"value":"circle"},"size":{"value":25}}},"labels":{"update":{"fill":{"scale":"color","field":"value"}}}}}},
   "strokeDash":{"field":"k","type":"nominal","scale":{"domain":["pl","disk","line"],"range":[[6,4],[1.5,3.5],[1.5,3.5]]},"legend":null}}},
  {"mark":{"type":"rule","strokeWidth":1.6},"encoding":{
   "x":{"field":"lo","type":"quantitative","scale":{"type":"log","domain":[0.511,7.92],"nice":false},"axis":null},
   "x2":{"field":"hi"},
   "y":{"field":"m","type":"quantitative","scale":{"type":"log","domain":[0.11,29.9],"nice":false},"axis":null},
   "color":{"field":"o","type":"nominal","scale":{"domain":["6203800103","6203800111","6203800122","6203800132","6203800141"],"range":["#000000","#ff0000","#ff00ff","#0000ff","#00ffff"]}}}},
  {"mark":{"type":"line","interpolate":"step-after","strokeWidth":1.6},"encoding":{
   "x":{"field":"lo","type":"quantitative","scale":{"type":"log","domain":[0.511,7.92],"nice":false},"axis":null},
   "y":{"field":"m","type":"quantitative","scale":{"type":"log","domain":[0.11,29.9],"nice":false},"axis":null},
   "color":{"field":"o","type":"nominal","scale":{"domain":["6203800103","6203800111","6203800122","6203800132","6203800141"],"range":["#000000","#ff0000","#ff00ff","#0000ff","#00ffff"]}}}},
  {"mark":{"type":"rule","strokeWidth":1.3},"encoding":{
   "x":{"field":"lo","type":"quantitative","scale":{"type":"log","domain":[0.511,7.92],"nice":false},"axis":null},
   "x2":{"field":"hi"},
   "y":{"field":"d","type":"quantitative","scale":{"type":"log","domain":[0.11,29.9],"nice":false},"axis":null},
   "color":{"field":"o","type":"nominal","scale":{"domain":["6203800103","6203800111","6203800122","6203800132","6203800141"],"range":["#000000","#ff0000","#ff00ff","#0000ff","#00ffff"]}}}},
  {"mark":{"type":"errorbar","thickness":1.3},"encoding":{
   "x":{"field":"e","type":"quantitative","scale":{"type":"log","domain":[0.511,7.92],"nice":false},"axis":null},
   "y":{"field":"d","type":"quantitative","scale":{"type":"log","domain":[0.11,29.9],"nice":false},"axis":null},
   "yError":{"field":"s"},
   "color":{"field":"o","type":"nominal","scale":{"domain":["6203800103","6203800111","6203800122","6203800132","6203800141"],"range":["#000000","#ff0000","#ff00ff","#0000ff","#00ffff"]}}}},
  {"data":{"name":"vl"},"mark":{"type":"rule","color":"#ff2020","strokeDash":[14,8],"strokeWidth":1.5},"encoding":{
   "x":{"field":"e","type":"quantitative","scale":{"type":"log","domain":[0.511,7.92],"nice":false},"axis":null}}}
 ]
},
{
 "width":740,"height":157,
 "data":{"name":"spec"},
 "resolve":{"axis":{"x":"independent","y":"independent"}},
 "layer":[
  {"mark":{"type":"point","opacity":0},"encoding":{
   "x":{"field":"e","type":"quantitative","scale":{"type":"log","domain":[0.511,7.92],"nice":false},"axis":{"orient":"bottom","values":[1],"labels":false,"tickSize":-9,"title":null}},
   "y":{"field":"r","type":"quantitative","scale":{"domain":[-8,8],"nice":false,"zero":false},"axis":{"orient":"left","values":[-5,0,5],"ticks":false,"labelPadding":17,"title":"χ","titleX":-62.5,"titleY":78,"titleAlign":"center","titleAngle":-90,"titleBaseline":"alphabetic"}}}},
  {"mark":{"type":"point","opacity":0},"encoding":{
   "x":{"field":"e","type":"quantitative","scale":{"type":"log","domain":[0.511,7.92],"nice":false},"axis":{"orient":"bottom","values":[0.6,0.7,0.8,0.9,2,3,4,5,6,7],"labels":false,"tickSize":-5,"title":null}},
   "y":{"field":"r","type":"quantitative","scale":{"domain":[-8,8],"nice":false,"zero":false},"axis":{"orient":"left","values":[-5,0,5],"labels":false,"tickSize":-11,"title":null}}}},
  {"mark":{"type":"point","opacity":0},"encoding":{
   "x":{"field":"e","type":"quantitative","scale":{"type":"log","domain":[0.511,7.92],"nice":false},"axis":{"orient":"top","values":[1],"labels":false,"tickSize":-9,"title":null}},
   "y":{"field":"r","type":"quantitative","scale":{"domain":[-8,8],"nice":false,"zero":false},"axis":{"orient":"left","values":[-7,-6,-4,-3,-2,-1,1,2,3,4,6,7],"labels":false,"tickSize":-6,"title":null}}}},
  {"mark":{"type":"point","opacity":0},"encoding":{
   "x":{"field":"e","type":"quantitative","scale":{"type":"log","domain":[0.511,7.92],"nice":false},"axis":{"orient":"top","values":[0.6,0.7,0.8,0.9,2,3,4,5,6,7],"labels":false,"tickSize":-5,"title":null}},
   "y":{"field":"r","type":"quantitative","scale":{"domain":[-8,8],"nice":false,"zero":false},"axis":{"orient":"right","values":[-5,0,5],"labels":false,"tickSize":-11,"title":null}}}},
  {"mark":{"type":"point","opacity":0},"encoding":{
   "x":{"field":"e","type":"quantitative","scale":{"type":"log","domain":[0.511,7.92],"nice":false},"axis":{"orient":"bottom","values":[1,2,5],"ticks":false,"labelPadding":13,"labelExpr":"'' + datum.value","title":"Energy (keV)","titlePadding":1}},
   "y":{"field":"r","type":"quantitative","scale":{"domain":[-8,8],"nice":false,"zero":false},"axis":{"orient":"right","values":[-7,-6,-4,-3,-2,-1,1,2,3,4,6,7],"labels":false,"tickSize":-6,"title":null}}}},
  {"mark":{"type":"rule","strokeWidth":1.3},"encoding":{
   "x":{"field":"lo","type":"quantitative","scale":{"type":"log","domain":[0.511,7.92],"nice":false},"axis":null},
   "x2":{"field":"hi"},
   "y":{"field":"r","type":"quantitative","scale":{"domain":[-8,8],"nice":false,"zero":false},"axis":null},
   "color":{"field":"o","type":"nominal","scale":{"domain":["6203800103","6203800111","6203800122","6203800132","6203800141"],"range":["#000000","#ff0000","#ff00ff","#0000ff","#00ffff"]}}}},
  {"mark":{"type":"tick","orient":"vertical","size":19.7,"thickness":1.3},"encoding":{
   "x":{"field":"e","type":"quantitative","scale":{"type":"log","domain":[0.511,7.92],"nice":false},"axis":null},
   "y":{"field":"r","type":"quantitative","scale":{"domain":[-8,8],"nice":false,"zero":false},"axis":null},
   "color":{"field":"o","type":"nominal","scale":{"domain":["6203800103","6203800111","6203800122","6203800132","6203800141"],"range":["#000000","#ff0000","#ff00ff","#0000ff","#00ffff"]}}}},
  {"mark":{"type":"rule","color":"#33cc33","strokeWidth":1.3},"encoding":{
   "y":{"datum":0,"type":"quantitative","scale":{"domain":[-8,8],"nice":false,"zero":false},"axis":null}}}
 ]
}
]
}
